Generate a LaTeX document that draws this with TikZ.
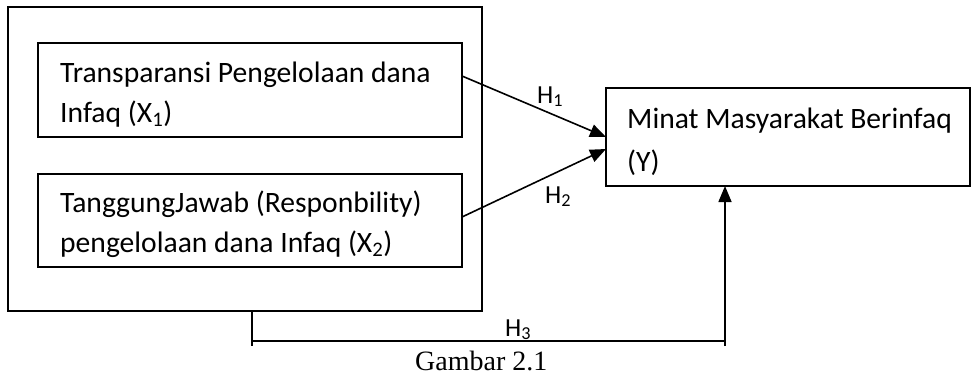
\documentclass[tikz,border=0pt]{standalone}
\usepackage{fontspec}
\setmainfont{Carlito}
\newfontfamily\timesf{Liberation Serif}
\usetikzlibrary{arrows.meta}
\begin{document}
\begin{tikzpicture}[x=1pt,y=-1pt,
  box/.style={draw,line width=1.6pt,inner sep=0pt,outer sep=0pt,anchor=north west},
  txt/.style={anchor=base west,inner sep=0pt,font=\fontsize{29.6}{35}\selectfont},
  lbl/.style={anchor=base west,inner sep=0pt,font=\fontsize{26}{30}\selectfont},
  conn/.style={line width=1.6pt},
  arr/.style={conn,-{Triangle[length=16pt,width=13pt]}}]
\useasboundingbox (0,0) rectangle (972,376);
\node[box,minimum width=474pt,minimum height=304pt] (outer) at (8,7) {};
\node[box,minimum width=424pt,minimum height=94pt] (b1) at (38,43) {};
\node[box,minimum width=424pt,minimum height=93pt] (b2) at (38,174) {};
\node[box,minimum width=364pt,minimum height=98pt] (y) at (606,88) {};
\node[txt] (t1a) at (60,82) {Transparansi Pengelolaan dana};
\node[txt] (t1b) at (60,122) {Infaq (X\textsubscript{1})};
\node[txt] (t2a) at (60,212) {TanggungJawab (Responbility)};
\node[txt] (t2b) at (60,252) {pengelolaan dana Infaq (X\textsubscript{2})};
\node[txt] (tya) at (627,128) {Minat Masyarakat Berinfaq};
\node[txt] (tyb) at (627,171) {(Y)};
\coordinate (s1) at (462,76);
\coordinate (e1) at (606,137);
\coordinate (s2) at (462,217);
\coordinate (e2) at (606,149);
\draw[arr] (s1) -- (e1);
\draw[arr] (s2) -- (e2);
\node[lbl] (h1) at (537,103) {H\textsubscript{1}};
\node[lbl] (h2) at (545,203) {H\textsubscript{2}};
\coordinate (p0) at (252,311);
\coordinate (p1) at (252,346);
\coordinate (p2) at (725,346);
\coordinate (q1) at (252,341);
\coordinate (q2) at (725,341);
\coordinate (yb) at (725,186);
\draw[conn] (p0) -- (p1);
\draw[conn] (q1) -- (q2);
\draw[arr] (p2) -- (yb);
\node[lbl] (h3) at (505,336) {H\textsubscript{3}};
\node[anchor=base west,inner sep=0pt,font=\timesf\fontsize{28}{32}\selectfont] (cap) at (415,370) {Gambar 2.1};
\end{tikzpicture}
\end{document}
